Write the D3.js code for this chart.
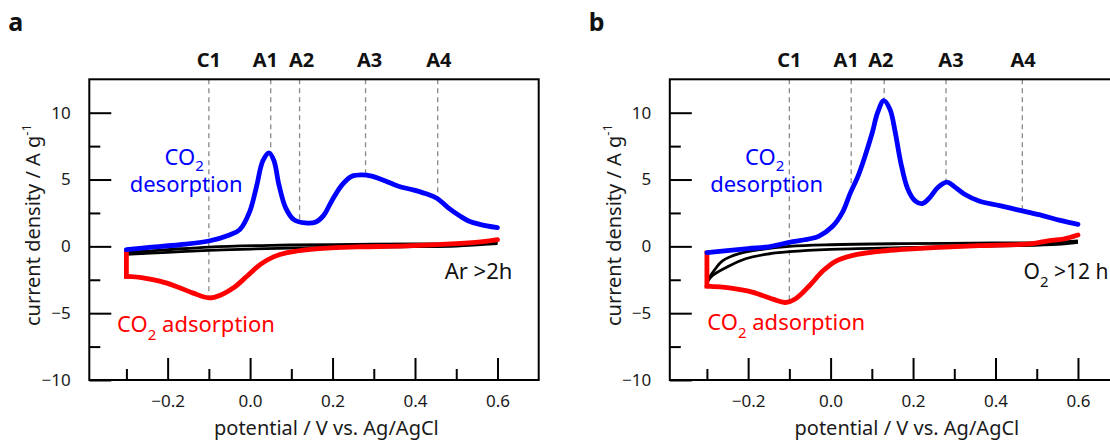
<!DOCTYPE html>
<html>
<head>
<meta charset="utf-8">
<script src="https://cdn.jsdelivr.net/npm/d3@7"></script>
<style>
  body { margin: 0; background: #fff; }
  svg { display: block; font-family: "Noto Sans", sans-serif; }
</style>
</head>
<body>
<svg id="chart" width="1110" height="441"></svg>
<script>
// potential (V vs Ag/AgCl), current density (A/g)

// panel a : Ar > 2h
const aDesorption = [[-0.3, -0.25], [-0.25, -0.1], [-0.17, 0.12], [-0.1, 0.4], [-0.05, 0.85], [-0.025, 1.25],
  [-0.001, 2.6], [0.015, 4.4], [0.031, 6.4], [0.046, 7.0], [0.058, 6.4], [0.07, 4.6], [0.086, 2.9],
  [0.106, 2.0], [0.134, 1.75], [0.158, 1.8], [0.178, 2.3], [0.198, 3.4], [0.223, 4.6], [0.247, 5.25],
  [0.271, 5.35], [0.295, 5.25], [0.327, 4.9], [0.36, 4.5], [0.392, 4.25], [0.425, 3.95], [0.453, 3.6],
  [0.48, 2.9], [0.51, 2.25], [0.53, 1.9], [0.557, 1.65], [0.6, 1.4]];
const aAdsorption = [[0.6, 0.5], [0.565, 0.35], [0.5, 0.2], [0.38, 0.03], [0.27, -0.03], [0.227, -0.07],
  [0.147, -0.22], [0.09, -0.47], [0.058, -0.77], [0.025, -1.35], [-0.007, -2.22], [-0.04, -3.1],
  [-0.072, -3.65], [-0.1, -3.85], [-0.138, -3.5], [-0.179, -3.0], [-0.219, -2.6], [-0.26, -2.35],
  [-0.3, -2.25], [-0.3, -0.35]];
const aArForward = [[-0.3, -0.45], [-0.2, -0.25], [-0.1, -0.05], [0.05, 0.08], [0.2, 0.13], [0.4, 0.18],
  [0.55, 0.22], [0.6, 0.3]];
const aArReverse = [[0.6, 0.2], [0.5, 0.02], [0.4, -0.02], [0.3, -0.05], [0.15, -0.1], [0.0, -0.2],
  [-0.1, -0.3], [-0.2, -0.45], [-0.3, -0.6]];

// panel b : O2 > 12 h
const bDesorption = [[-0.3, -0.47], [-0.2, -0.17], [-0.15, -0.03], [-0.1, 0.3], [-0.053, 0.55], [-0.028, 0.77],
  [0.005, 1.5], [0.028, 2.5], [0.048, 4.0], [0.067, 5.3], [0.084, 6.8], [0.101, 8.5], [0.114, 10.0],
  [0.129, 10.9], [0.144, 10.25], [0.157, 8.5], [0.17, 6.3], [0.187, 4.3], [0.205, 3.4], [0.222, 3.2],
  [0.239, 3.6], [0.26, 4.4], [0.282, 4.8], [0.299, 4.5], [0.325, 3.9], [0.36, 3.4], [0.41, 3.05],
  [0.465, 2.65], [0.514, 2.3], [0.557, 1.95], [0.6, 1.65]];
const bAdsorption = [[0.6, 0.85], [0.565, 0.55], [0.524, 0.4], [0.488, 0.2], [0.36, 0.05], [0.25, -0.1],
  [0.167, -0.25], [0.118, -0.37], [0.054, -0.67], [0.013, -1.1], [-0.019, -1.85], [-0.052, -2.97],
  [-0.084, -3.9], [-0.11, -4.2], [-0.14, -3.95], [-0.19, -3.42], [-0.246, -3.1], [-0.3, -2.97],
  [-0.3, -0.5]];
const bO2Forward = [[-0.3, -2.6], [-0.28, -1.7], [-0.263, -1.1], [-0.222, -0.55], [-0.166, -0.22], [-0.1, 0.0],
  [0.0, 0.12], [0.17, 0.2], [0.4, 0.25], [0.55, 0.3], [0.6, 0.4]];
const bO2Reverse = [[0.6, 0.3], [0.55, 0.15], [0.45, 0.05], [0.35, 0.0], [0.17, -0.1], [0.0, -0.22],
  [-0.1, -0.4], [-0.158, -0.6], [-0.206, -0.93], [-0.246, -1.47], [-0.287, -2.2], [-0.3, -2.7]];

// peak markers
const peakNames = ["C1", "A1", "A2", "A3", "A4"];
const aPeakPotential = [-0.1, 0.05, 0.12, 0.28, 0.455];
const aPeakCurrent = [-3.85, 7.0, 2.0, 5.35, 3.65];
const aPeakLabelAt = [-0.1, 0.037, 0.125, 0.29, 0.458];
const bPeakPotential = [-0.1, 0.05, 0.13, 0.28, 0.465];
const bPeakCurrent = [-4.15, 4.1, 10.9, 4.8, 2.65];
const bPeakLabelAt = [-0.1, 0.038, 0.122, 0.292, 0.467];

// ticks
const xMajorTicks = [-0.2, 0.0, 0.2, 0.4, 0.6];
const xMinorTicks = [-0.3, -0.1, 0.1, 0.3, 0.5];
const yMajorTicks = [-10, -5, 0, 5, 10];
const yMinorTicks = [-7.5, -2.5, 2.5, 7.5];

const svg = d3.select("#chart");

const panels = [
  {
    letter: "a", left: 89.3,
    desorption: aDesorption, adsorption: aAdsorption, blanks: [aArForward, aArReverse],
    peakX: aPeakPotential, peakY: aPeakCurrent, labelX: aPeakLabelAt,
    desorbAt: [-0.16, 6.09], adsorbAt: [-0.3226, -6.39], gasAt: [0.472, -2.47],
    gas: ["Ar >2h"]
  },
  {
    letter: "b", left: 669.8,
    desorption: bDesorption, adsorption: bAdsorption, blanks: [bO2Forward, bO2Reverse],
    peakX: bPeakPotential, peakY: bPeakCurrent, labelX: bPeakLabelAt,
    desorbAt: [-0.16, 6.09], adsorbAt: [-0.299, -6.29], gasAt: [0.468, -2.47],
    gas: ["O", "2", " >12 h"]
  }
];

const plotTop = 79.3, plotBottom = 380;

panels.forEach(p => {
  const x = d3.scaleLinear().domain([-0.39, 0.70]).range([p.left, p.left + 449.4]);
  const y = d3.scaleLinear().domain([-10, 12.5]).range([plotBottom, plotTop]);
  const g = svg.append("g");

  const line = d3.line().x(d => x(d[0])).y(d => y(d[1])).curve(d3.curveCatmullRom.alpha(0.5));
  const straight = d3.line().x(d => x(d[0])).y(d => y(d[1]));

  // dashed peak guides
  g.append("g").selectAll("line").data(p.peakX).join("line")
    .attr("x1", d => x(d)).attr("x2", d => x(d))
    .attr("y1", plotTop).attr("y2", (d, i) => y(p.peakY[i]))
    .attr("stroke", "#8a8a8a").attr("stroke-width", 1.3).attr("stroke-dasharray", "5,4");

  // blank (no CO2) CVs
  p.blanks.forEach(b => {
    g.append("path").attr("d", line(b)).attr("fill", "none")
      .attr("stroke", "#000").attr("stroke-width", 2.8);
  });

  // adsorption (cathodic) - smooth part plus vertical switch segment
  const ads = p.adsorption;
  g.append("path").attr("d", line(ads.slice(0, -1))).attr("fill", "none")
    .attr("stroke", "#ff0000").attr("stroke-width", 4.8).attr("stroke-linecap", "round");
  g.append("path").attr("d", straight(ads.slice(-2))).attr("fill", "none")
    .attr("stroke", "#ff0000").attr("stroke-width", 4.8).attr("stroke-linecap", "square");

  // desorption (anodic)
  g.append("path").attr("d", line(p.desorption)).attr("fill", "none")
    .attr("stroke", "#0000ff").attr("stroke-width", 4.8).attr("stroke-linecap", "round");

  // axes, ticks pointing inward
  const styleAxis = ax => {
    ax.select(".domain").remove();
    ax.selectAll(".tick line").attr("stroke-width", 2);
    ax.selectAll("text").attr("font-family", "Noto Sans").attr("font-size", 17).attr("fill", "#1a1a1a");
  };
  g.append("g").attr("transform", `translate(0,${plotBottom})`)
    .call(d3.axisBottom(x).tickValues(xMajorTicks).tickFormat(d3.format(".1f"))
      .tickSizeInner(-22).tickSizeOuter(0).tickPadding(15))
    .call(styleAxis);
  g.append("g").attr("transform", `translate(0,${plotBottom})`)
    .call(d3.axisBottom(x).tickValues(xMinorTicks).tickFormat("").tickSizeInner(-11).tickSizeOuter(0))
    .call(styleAxis);
  g.append("g").attr("transform", `translate(${p.left},0)`)
    .call(d3.axisLeft(y).tickValues(yMajorTicks).tickFormat(d3.format("d"))
      .tickSizeInner(-22).tickSizeOuter(0).tickPadding(18.6))
    .call(styleAxis);
  g.append("g").attr("transform", `translate(${p.left},0)`)
    .call(d3.axisLeft(y).tickValues(yMinorTicks).tickFormat("").tickSizeInner(-11).tickSizeOuter(0))
    .call(styleAxis);

  // frame
  g.append("rect").attr("x", p.left).attr("y", plotTop).attr("width", 449.4).attr("height", plotBottom - plotTop)
    .attr("fill", "none").attr("stroke", "#000").attr("stroke-width", 2);

  // peak names
  g.append("g").selectAll("text").data(peakNames).join("text")
    .attr("x", (d, i) => x(p.labelX[i])).attr("y", 66.7)
    .attr("text-anchor", "middle").attr("font-weight", "bold").attr("font-size", 20)
    .attr("fill", "#111").text(d => d);

  // panel letter
  g.append("text").attr("x", p.left - 81).attr("y", 31)
    .attr("font-weight", "bold").attr("font-size", 25).attr("fill", "#111").text(p.letter);

  // axis titles
  g.append("text").attr("x", x(0.185)).attr("y", 435).attr("text-anchor", "middle")
    .attr("font-size", 20).attr("fill", "#1a1a1a").text("potential / V vs. Ag/AgCl");
  const yt = g.append("text").attr("transform", `translate(${p.left - 49},225) rotate(-90)`)
    .attr("text-anchor", "middle").attr("font-size", 20).attr("fill", "#1a1a1a");
  yt.append("tspan").text("current density / A g");
  yt.append("tspan").attr("dy", -9).attr("font-size", 13).text("-1");

  // annotations: two-line desorption label as one text block
  const dx0 = x(p.desorbAt[0]);
  const des = g.append("text").attr("x", dx0).attr("y", y(p.desorbAt[1]))
    .attr("text-anchor", "middle").attr("font-size", 22).attr("fill", "#0000ff");
  des.append("tspan").text("CO");
  des.append("tspan").attr("dy", 6).attr("font-size", 15).text("2");
  des.append("tspan").attr("x", dx0 + 2).attr("dy", 21).text("desorption");

  const ads1 = g.append("text").attr("x", x(p.adsorbAt[0])).attr("y", y(p.adsorbAt[1]))
    .attr("font-size", 22).attr("fill", "#ff0000");
  ads1.append("tspan").text("CO");
  ads1.append("tspan").attr("dy", 8).attr("font-size", 15).text("2");
  ads1.append("tspan").attr("dy", -8).text(" adsorption");

  const gas = g.append("text").attr("x", x(p.gasAt[0])).attr("y", y(p.gasAt[1]))
    .attr("font-size", 22).attr("fill", "#111");
  if (p.gas.length === 1) {
    gas.text(p.gas[0]);
  } else {
    gas.attr("font-size", 21);
    gas.append("tspan").text(p.gas[0]);
    gas.append("tspan").attr("dy", 8).attr("font-size", 15).text(p.gas[1]);
    gas.append("tspan").attr("dy", -8).text(p.gas[2]);
  }
});
</script>
</body>
</html>
